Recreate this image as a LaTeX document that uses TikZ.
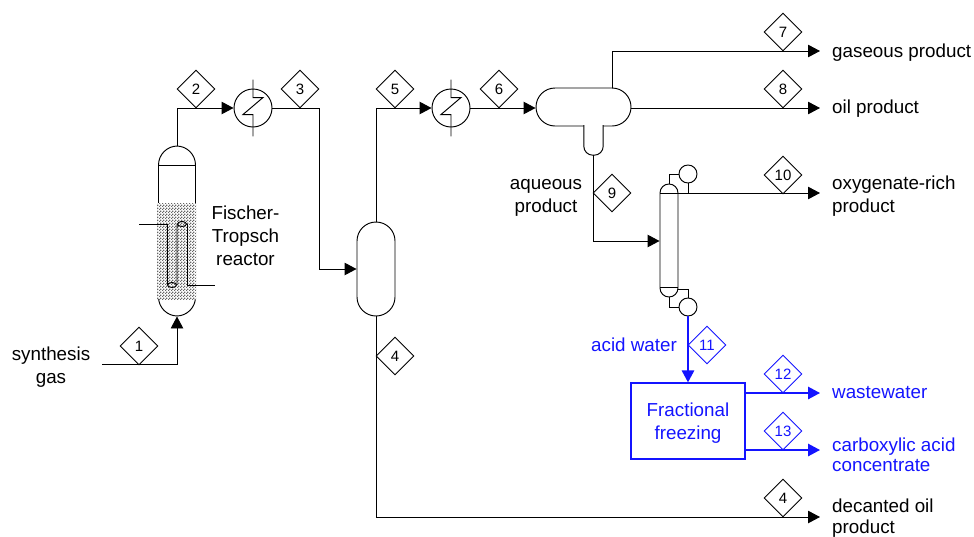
\documentclass[tikz,border=0pt]{standalone}
\usepackage{fontspec}
\setmainfont{Liberation Sans}
\usetikzlibrary{arrows.meta,patterns,positioning,shapes.geometric}

\definecolor{acidblue}{RGB}{20,20,255}
\pgfdeclarepatternformonly{bedgrain}{\pgfqpoint{0pt}{0pt}}{\pgfqpoint{2.6pt}{2.6pt}}{\pgfqpoint{2.6pt}{2.6pt}}{
	\pgfpathrectangle{\pgfqpoint{0pt}{0pt}}{\pgfqpoint{1.3pt}{1.3pt}}
	\pgfpathrectangle{\pgfqpoint{1.3pt}{1.3pt}}{\pgfqpoint{1.3pt}{1.3pt}}
	\pgfusepath{fill}
}
\tikzset{
	pipe/.style={line width=0.95pt},
	feed/.style={pipe, -{Triangle[length=12pt,width=12.5pt]}},
	bluefeed/.style={line width=1.4pt, draw=acidblue, -{Triangle[length=12pt,width=12.5pt,color=acidblue]}},
	stream/.style={draw, diamond, aspect=1, minimum size=38pt, inner sep=0pt, line width=0.95pt, font=\fontsize{15}{18}\selectfont},
	bluestream/.style={stream, draw=acidblue, text=acidblue},
	exchanger/.style={draw, circle, minimum size=38pt, inner sep=0pt, line width=0.95pt},
	drum/.style={draw, rectangle, rounded corners=19pt, line width=0.95pt, inner sep=0pt},
	drumhead/.style={draw, circle, minimum size=18pt, inner sep=0pt, line width=0.95pt},
	tubeend/.style={draw, ellipse, minimum width=9pt, minimum height=5pt, inner sep=0pt, line width=0.95pt},
	label/.style={align=center, inner sep=0pt, font=\fontsize{18.8}{23}\selectfont},
	outlabel/.style={label, align=left, anchor=west},
}

\begin{document}
\begin{tikzpicture}[x=1pt, y=-1pt]
	\useasboundingbox (0,0) rectangle (974,536);

	\node [drum, minimum width=37pt, minimum height=170pt] (reactor) at (177,231) {};
	\node [preaction={fill=white}, pattern=bedgrain, pattern color=black!60, minimum width=39pt, minimum height=96pt, inner sep=0pt] (bed) at (176.5,251) {};
	\coordinate (headl) at (158,165);
	\coordinate (headr) at (195,165);
	\coordinate (tubein) at (139,224);
	\coordinate (tubeout) at (215,285);
	\node [tubeend] (tubetop) at (182,224) {};
	\node [tubeend] (tubebot) at (172,285) {};

	\node [exchanger] (hx1) at (253,108) {};
	\node [exchanger] (hx2) at (451,108) {};
	\node [drum, minimum width=38pt, minimum height=94pt] (sep) at (376,269) {};
	\node [drum, minimum width=95pt, minimum height=38pt] (decanter) at (583.5,107) {};
	\node [minimum width=19pt, minimum height=29.6pt, inner sep=0pt] (boot) at (593.5,140.2) {};

	\node [draw, rectangle, rounded corners=9pt, minimum width=18pt, minimum height=113pt, inner sep=0pt, line width=0.95pt] (column) at (669,240.5) {};
	\node [drumhead] (cond) at (688,174) {};
	\node [drumhead] (reboil) at (688,307) {};
	\coordinate (topl) at (660,193);
	\coordinate (topr) at (678,193);
	\coordinate (botl) at (660,287);
	\coordinate (botr) at (678,287);

	\node [draw=acidblue, line width=1.3pt, minimum width=114pt, minimum height=76pt, inner sep=0pt] (freezer) at (688,421) {};

	\coordinate (in1) at (102,364);
	\coordinate (out7) at (820,51);
	\coordinate (out8) at (820,108);
	\coordinate (out10) at (820,193);
	\coordinate (out12) at (820,393);
	\coordinate (out13) at (820,450);
	\coordinate (out4) at (820,517);

	\node [stream] (s1) at (139,346) {1};
	\node [stream] (s2) at (196,89) {2};
	\node [stream] (s3) at (300,89) {3};
	\node [stream] (s4a) at (395,356) {4};
	\node [stream] (s4b) at (783,498) {4};
	\node [stream] (s5) at (395,89) {5};
	\node [stream] (s6) at (499,89) {6};
	\node [stream] (s7) at (783,32) {7};
	\node [stream] (s8) at (783,89) {8};
	\node [stream] (s9) at (612,193) {9};
	\node [stream] (s10) at (783,175) {10};
	\node [bluestream] (s11) at (707,345) {11};
	\node [bluestream] (s12) at (783,374) {12};
	\node [bluestream] (s13) at (783,431) {13};

	\node [label] (lgas) at (51,367) {synthesis\\gas};
	\node [label] (lreactor) at (245.5,236) {Fischer-\\Tropsch\\reactor};
	\node [label] (laqueous) at (546,197.5) {aqueous\\product};
	\node [label, text=acidblue] (lacid) at (634,345) {acid water};
	\node [label, text=acidblue] (lfreezer) at (688,423) {Fractional\\freezing};
	\node [outlabel] (l7) at (832,53) {gaseous product};
	\node [outlabel] (l8) at (832,109) {oil product};
	\node [outlabel] (l10) at (832,196.5) {oxygenate-rich\\product};
	\node [outlabel, text=acidblue] (l12) at (832,393) {wastewater};
	\node [outlabel, text=acidblue] (l13) at (832,454.5) {carboxylic acid\\[-3pt]concentrate};
	\node [outlabel] (l4) at (832,518) {decanted oil\\[-1.5pt]product};

	\draw [pipe] (headl) -- (headr);
	\draw [pipe] (tubein) -| (tubebot.west);
	\draw [pipe] (tubebot.east) -- (tubetop.west);
	\draw [pipe] (tubetop.east) |- (tubeout);
	\draw [pipe] (hx1.north) ++(0,-9) -- ++(0,18) -- ++(10,0) -- ++(-20,17) -- ++(10,0) -- (hx1.south) -- ++(0,9);
	\draw [pipe] (hx2.north) ++(0,-9) -- ++(0,18) -- ++(10,0) -- ++(-20,17) -- ++(10,0) -- (hx2.south) -- ++(0,9);
	\draw [pipe] (topl) -- (topr);
	\draw [pipe] (botl) -- (botr);
	\draw [pipe, fill=white, rounded corners=9pt] (boot.north west) -- (boot.south west) -- (boot.south east) -- (boot.north east);

	\draw [feed] (in1) -| (reactor.south);
	\draw [feed] (reactor.north) |- (hx1.west);
	\draw [feed] (hx1.east) -| (319,269) -- (sep.west);
	\draw [feed] (sep.north) |- (hx2.west);
	\draw [feed] (hx2.east) -- (decanter.west |- hx2.east);
	\draw [feed] (612,88) |- (out7);
	\draw [feed] (decanter.east |- out8) -- (out8);
	\draw [feed] (boot.south) |- (column.west |- 593,241);
	\draw [feed] (topr) -- (out10);
	\draw [feed] (sep.south) |- (out4);
	\draw [pipe] (column.north) |- (cond.west);
	\draw [pipe] (cond.south) -- (cond.south |- topr);
	\draw [pipe] (column.south) |- (reboil.west);
	\draw [pipe] (botr) ++(0,2) -| (reboil.north);
	\draw [bluefeed] (reboil.south) -- (freezer.north);
	\draw [bluefeed] (freezer.east |- out12) -- (out12);
	\draw [bluefeed] (freezer.east |- out13) -- (out13);
\end{tikzpicture}
\end{document}
